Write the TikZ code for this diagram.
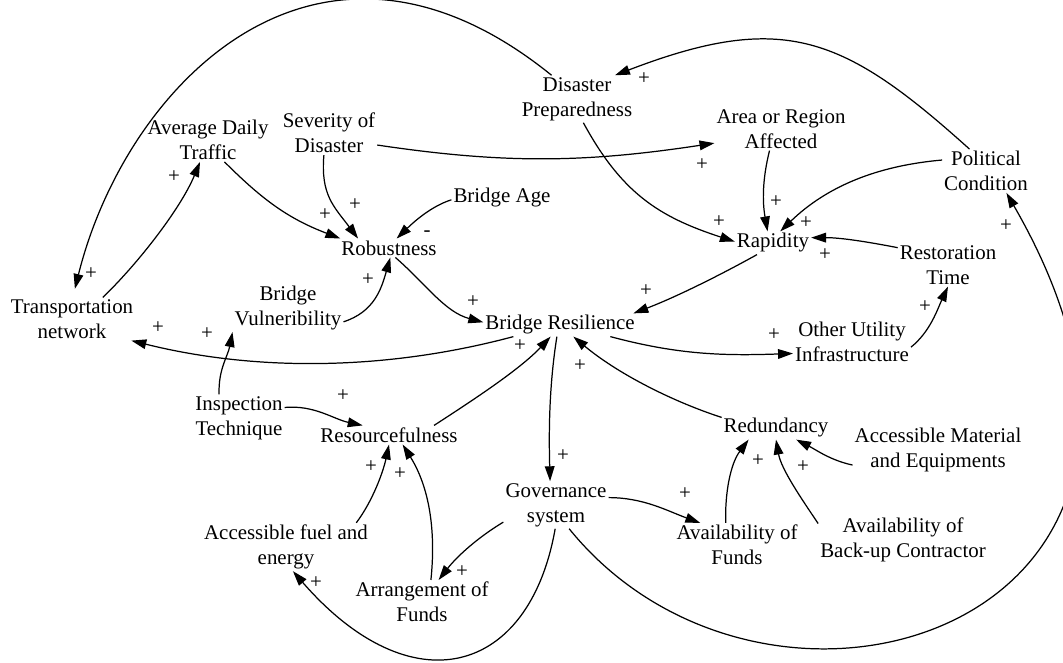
\documentclass[tikz,border=0pt]{standalone}
\usepackage{fontspec}
\setmainfont{Liberation Serif}
\usetikzlibrary{arrows.meta}

\begin{document}
\begin{tikzpicture}[x=0.02cm, y=0.02cm,
	var/.style={align=center, inner sep=1pt, font=\fontsize{11.9}{14.2}\selectfont},
	sign/.style={inner sep=0pt, font=\fontsize{11.9}{14.2}\selectfont},
	link/.style={-{Triangle[length=8.5pt, width=5.5pt]}, line width=0.7pt}]
				\useasboundingbox (0,0) rectangle (1063,663);
				\node[var] (DP)at(577, 564) {Disaster\\Preparedness};
				\node[var] (ADT)at(208, 523) {Average Daily\\Traffic};
				\node[var] (SoD)at(329, 530) {Severity of\\Disaster};
				\node[var] (ARA)at(781, 534) {Area or Region\\Affected};
				\node[var] (PC)at(986, 492) {Political\\Condition};
				\node[var] (BA)at(502, 465) {Bridge Age};
				\node[var] (Rob)at(389, 415) {Robustness};
				\node[var] (Rap)at(773, 420) {Rapidity};
				\node[var] (RT)at(948, 398) {Restoration\\Time};
				\node[var] (TN)at(72, 344) {Transportation\\network};
				\node[var] (BV)at(288, 355) {Bridge\\Vulneribility};
				\node[var] (BR)at(560, 338) {Bridge Resilience};
				\node[var] (OUI)at(852, 321) {Other Utility\\Infrastructure};
				\node[var] (IT)at(239, 245) {Inspection\\Technique};
				\node[var] (Res)at(389, 228) {Resourcefulness};
				\node[var] (Red)at(776, 235) {Redundancy};
				\node[var] (AME)at(938, 213) {Accessible Material\\and Equipments};
				\node[var] (Gov)at(556, 158) {Governance\\system};
				\node[var] (AvF)at(737, 118) {Availability of\\Funds};
				\node[var] (BUC)at(903, 123) {Availability of\\Back-up Contractor};
				\node[var] (AFE)at(286, 116) {Accessible fuel and\\energy};
				\node[var] (AoF)at(422, 61) {Arrangement of\\Funds};
				\draw[link, shorten >=5pt] (DP.137) .. controls +(141:6cm) and +(76:4.4cm) .. (TN.88) node[sign] (pDPTN) at (91, 389) {+};
				\draw[link] (PC.127) .. controls +(138:3.4cm) and +(21:3.6cm) .. (DP.32) node[sign] (pPCDP) at (644, 584) {+};
				\draw[link] (SoD.-14) .. controls +(-8.5:2.6cm) and +(188.6:2.6cm) .. (ARA.192) node[sign] (pSoDARA) at (702, 498) {+};
				\draw[link] (SoD.-103) .. controls +(-95:0.8cm) and +(127:0.8cm) .. (Rob.163) node[sign] (pSoDRob) at (355, 458) {+};
				\draw[link] (ADT.-53) .. controls +(-45:1.1cm) and +(159:1.1cm) .. (Rob.169) node[sign] (pADTRob) at (325, 448) {+};
				\draw[link] (BA.182) .. controls +(198:0.45cm) and +(44:0.45cm) .. (Rob.51) node[sign] (mBARob) at (427, 429) {-};
				\draw[link] (TN.35) .. controls +(44:1cm) and +(247.5:1cm) .. (ADT.250) node[sign] (pTNADT) at (174, 486) {+};
				\draw[link] (BV.-14) .. controls +(18:0.65cm) and +(254:0.65cm) .. (Rob.-82) node[sign] (pBVRob) at (368, 383) {+};
				\draw[link] (Rob.-56) .. controls +(-41:0.8cm) and +(165:0.8cm) .. (BR.178) node[sign] (pRobBR) at (473, 361) {+};
				\draw[link] (DP.-75) .. controls +(-61.5:1.6cm) and +(162:1.6cm) .. (Rap.178) node[sign] (pDPRap) at (719, 441) {+};
				\draw[link] (ARA.242) .. controls +(256:0.6cm) and +(100:0.6cm) .. (Rap.115) node[sign] (pARARap) at (776, 461) {+};
				\draw[link] (PC.166) .. controls +(185:1.3cm) and +(44:1.3cm) .. (Rap.58) node[sign] (pPCRap) at (806, 440) {+};
				\draw[link] (RT.161) .. controls +(169:0.6cm) and +(0:0.6cm) .. (Rap.8) node[sign] (pRTRap) at (825, 408) {+};
				\draw[link] (Rap.216) .. controls +(209:0.9cm) and +(21:0.9cm) .. (BR.9) node[sign] (pRapBR) at (646, 372) {+};
				\draw[link] (BR.194) .. controls +(195:2.6cm) and +(346:2.6cm) .. (TN.-20) node[sign] (pBRTN) at (158, 335) {+};
				\draw[link] (IT.130) .. controls +(92:0.5cm) and +(259:0.5cm) .. (BV.south west) node[sign] (pITBV) at (207, 329) {+};
				\draw[link] (IT.13) .. controls +(5:0.6cm) and +(168:0.6cm) .. (Res.160) node[sign] (pITRes) at (343, 267) {+};
				\draw[link] (Res.12) .. controls +(33:0.9cm) and +(227:0.9cm) .. (BR.231) node[sign] (pResBR) at (520, 317) {+};
				\draw[link] (BR.255) .. controls +(261:1cm) and +(91.5:1cm) .. (Gov.104) node[sign] (pBRGov) at (563, 207) {+};
				\draw[link] (Red.169) .. controls +(162:1.1cm) and +(320:1.1cm) .. (BR.-41) node[sign] (pRedBR) at (580, 297) {+};
				\draw[link] (BR.-13) .. controls +(-15:1.4cm) and +(182:1.4cm) .. (OUI.191) node[sign] (pBROUI) at (774, 328) {+};
				\draw[link] (OUI.-5) .. controls +(39:0.5cm) and +(245:0.5cm) .. (RT.-90) node[sign] (pOUIRT) at (925, 356) {+};
				\draw[link] (Gov.-61) .. controls +(-51:6.4cm) and +(300:10cm) .. (PC.-47) node[sign] (pGovPC) at (1006, 437) {+};
				\draw[link] (Gov.8) .. controls +(0:0.7cm) and +(160:0.7cm) .. (AvF.149) node[sign] (pGovAvF) at (685, 169) {+};
				\draw[link] (Gov.198) .. controls +(211:0.6cm) and +(52:0.6cm) .. (AoF.53) node[sign] (pGovAoF) at (462, 91) {+};
				\draw[link] (Gov.268) .. controls +(260:3cm) and +(311:3.6cm) .. (AFE.-74) node[sign] (pGovAFE) at (316, 80) {+};
				\draw[link] (AFE.19) .. controls +(53:0.55cm) and +(258:0.55cm) .. (Res.-90) node[sign] (pAFERes) at (371, 196) {+};
				\draw[link] (AoF.68) .. controls +(84:1cm) and +(302:1cm) .. (Res.-35) node[sign] (pAoFRes) at (400, 189) {+};
				\draw[link] (AvF.117) .. controls +(92:0.6cm) and +(233:0.6cm) .. (Red.203) node[sign] (pAvFRed) at (758, 202) {+};
				\draw[link] (BUC.169) .. controls +(124:0.6cm) and +(280:0.6cm) .. (Red.-90) node[sign] (pBUCRed) at (803, 196) {+};
				\draw[link] (AME.190) .. controls +(168:0.45cm) and +(333:0.45cm) .. (Red.-30);
			\end{tikzpicture}
\end{document}
